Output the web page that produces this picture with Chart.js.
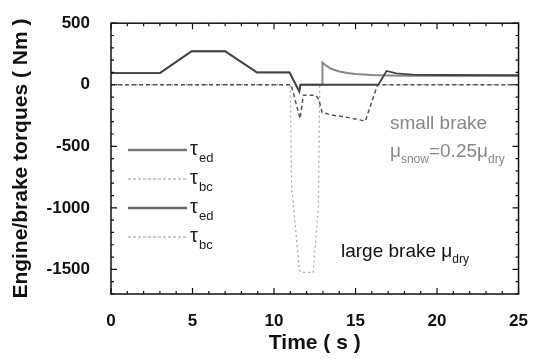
<!DOCTYPE html>
<html>
<head>
<meta charset="utf-8">
<script src="https://cdn.jsdelivr.net/npm/chart.js@4.4.1/dist/chart.umd.min.js"></script>
<style>
  html, body { margin: 0; padding: 0; background: #fff; }
  #wrap { width: 537px; height: 359px; }
</style>
</head>
<body>
<div id="wrap"><canvas id="myChart" width="537" height="359"></canvas></div>
<script>
// engine torque, large brake case (s, Nm)
const tEngLarge = [0, 3.0, 4.95, 7.0, 8.95, 10.95, 11.55, 11.62, 12.95, 12.97, 13.2, 13.5, 14, 14.5, 15, 16, 17, 18, 25];
const engLarge  = [95, 95, 272, 272, 100, 100, -55, 0, 0, 180, 155, 130, 108, 95, 87, 80, 76, 74, 72];

// engine torque, small brake case
const tEngSmall = [0, 3.0, 4.95, 7.0, 8.95, 10.95, 11.55, 11.62, 16.4, 16.9, 17.5, 18.5, 20, 25];
const engSmall  = [95, 95, 272, 272, 100, 100, -55, 0, 0, 112, 92, 82, 79, 78];

// brake torque, small brake (mu snow)
const tBrkSmall = [0, 11.05, 11.6, 11.8, 12.55, 12.75, 12.95, 13.5, 14.5, 15.6, 16.35, 25];
const brkSmall  = [0, 0, -275, -85, -85, -120, -225, -245, -265, -295, 0, 0];

// brake torque, large brake (mu dry)
const tBrkLarge = [0, 11.0, 11.08, 11.15, 11.55, 11.65, 12.4, 12.72, 12.8, 25];
const brkLarge  = [0, 0, -850, -920, -1500, -1525, -1525, -1000, 0, 0];

const xTicks = [0, 5, 10, 15, 20, 25];
const yTicks = [-1500, -1000, -500, 0, 500];

const FONT = 'Arial, "Liberation Sans", Helvetica, sans-serif';

function pts(xs, ys) {
  return xs.map((x, i) => ({ x: x, y: ys[i] }));
}

// frame, inward ticks, legend and notes
const decor = {
  id: 'decor',
  afterDraw(chart) {
    const ctx = chart.ctx;
    const a = chart.chartArea;
    const sx = chart.scales.x, sy = chart.scales.y;
    ctx.save();
    ctx.strokeStyle = '#111';
    ctx.lineWidth = 1.5;
    ctx.strokeRect(a.left, a.top, a.right - a.left, a.bottom - a.top);
    ctx.lineWidth = 1.2;
    ctx.beginPath();
    for (let t = 0; t <= 25; t++) {
      const px = sx.getPixelForValue(t);
      const len = t % 5 === 0 ? 6 : 3;
      ctx.moveTo(px, a.bottom); ctx.lineTo(px, a.bottom - len);
      ctx.moveTo(px, a.top); ctx.lineTo(px, a.top + len);
    }
    for (let v = -1700; v <= 500; v += 100) {
      const py = sy.getPixelForValue(v);
      const len = v % 500 === 0 ? 6 : 3;
      ctx.moveTo(a.left, py); ctx.lineTo(a.left + len, py);
      ctx.moveTo(a.right, py); ctx.lineTo(a.right - len, py);
    }
    ctx.stroke();

    // legend
    const rows = [
      { y: 150, color: '#777', w: 2.5, dash: [], sub: 'ed' },
      { y: 179, color: '#999', w: 1, dash: [3, 2], sub: 'bc' },
      { y: 208, color: '#666', w: 2.5, dash: [], sub: 'ed' },
      { y: 237, color: '#999', w: 1, dash: [3, 2], sub: 'bc' }
    ];
    rows.forEach(r => {
      ctx.strokeStyle = r.color;
      ctx.lineWidth = r.w;
      ctx.setLineDash(r.dash);
      ctx.beginPath();
      ctx.moveTo(128, r.y); ctx.lineTo(187, r.y);
      ctx.stroke();
      ctx.setLineDash([]);
      ctx.fillStyle = '#222';
      ctx.textBaseline = 'alphabetic';
      ctx.font = '20px ' + FONT;
      ctx.fillText('τ', 190, r.y + 5);
      ctx.font = '13px ' + FONT;
      ctx.fillText(r.sub, 199, r.y + 12);
    });

    // notes
    ctx.fillStyle = '#888';
    ctx.font = '19px ' + FONT;
    ctx.fillText('small brake', 390, 129);
    let x = 390;
    ctx.font = '19px ' + FONT;
    ctx.fillText('μ', x, 157); x += ctx.measureText('μ').width;
    ctx.font = '12px ' + FONT;
    ctx.fillText('snow', x, 163); x += ctx.measureText('snow').width;
    ctx.font = '19px ' + FONT;
    ctx.fillText('=0.25μ', x, 157); x += ctx.measureText('=0.25μ').width;
    ctx.font = '12px ' + FONT;
    ctx.fillText('dry', x, 163);

    ctx.fillStyle = '#111';
    x = 341;
    ctx.font = '19px ' + FONT;
    ctx.fillText('large brake μ', x, 257); x += ctx.measureText('large brake μ').width;
    ctx.font = '12px ' + FONT;
    ctx.fillText('dry', x, 263);
    ctx.restore();
  }
};

const ctx = document.getElementById('myChart');
const myChart = new Chart(ctx, {
  type: 'line',
  data: {
    datasets: [
      {
        label: 'brake large',
        data: pts(tBrkLarge, brkLarge),
        borderColor: '#aaa',
        borderWidth: 1.3,
        borderDash: [2, 3],
        order: 4
      },
      {
        label: 'brake small',
        data: pts(tBrkSmall, brkSmall),
        borderColor: '#555',
        borderWidth: 1.5,
        borderDash: [4, 3],
        order: 3
      },
      {
        label: 'engine large',
        data: pts(tEngLarge, engLarge),
        borderColor: '#888',
        borderWidth: 2,
        order: 2
      },
      {
        label: 'engine small',
        data: pts(tEngSmall, engSmall),
        borderColor: '#444',
        borderWidth: 1.8,
        order: 1
      }
    ]
  },
  options: {
    responsive: false,
    animation: false,
    events: [],
    layout: { padding: { top: 19, right: 11, left: 0, bottom: 0 } },
    elements: { point: { radius: 0 }, line: { tension: 0 } },
    plugins: { legend: { display: false }, tooltip: { enabled: false } },
    scales: {
      x: {
        type: 'linear',
        min: 0,
        max: 25,
        afterBuildTicks: s => { s.ticks = xTicks.map(v => ({ value: v })); },
        afterFit: s => { s.height = 65; },
        grid: { display: false },
        border: { display: false },
        ticks: {
          padding: 9,
          color: '#111',
          callback: v => String(v),
          font: { family: FONT, size: 17, weight: 'bold' }
        },
        title: {
          display: true,
          text: 'Time ( s )',
          color: '#111',
          padding: { top: 0, bottom: 3 },
          font: { family: FONT, size: 21, weight: 'bold' }
        }
      },
      y: {
        type: 'linear',
        min: -1700,
        max: 500,
        afterBuildTicks: s => { s.ticks = yTicks.map(v => ({ value: v })); },
        afterFit: s => { s.width = 111; },
        grid: { display: false },
        border: { display: false },
        ticks: {
          padding: 13,
          color: '#111',
          callback: v => String(v),
          font: { family: FONT, size: 17, weight: 'bold' }
        },
        title: {
          display: true,
          text: 'Engine/brake torques ( Nm )',
          color: '#111',
          padding: { top: 9, bottom: 0 },
          font: { family: FONT, size: 21, weight: 'bold' }
        }
      }
    }
  },
  plugins: [decor]
});
</script>
</body>
</html>
